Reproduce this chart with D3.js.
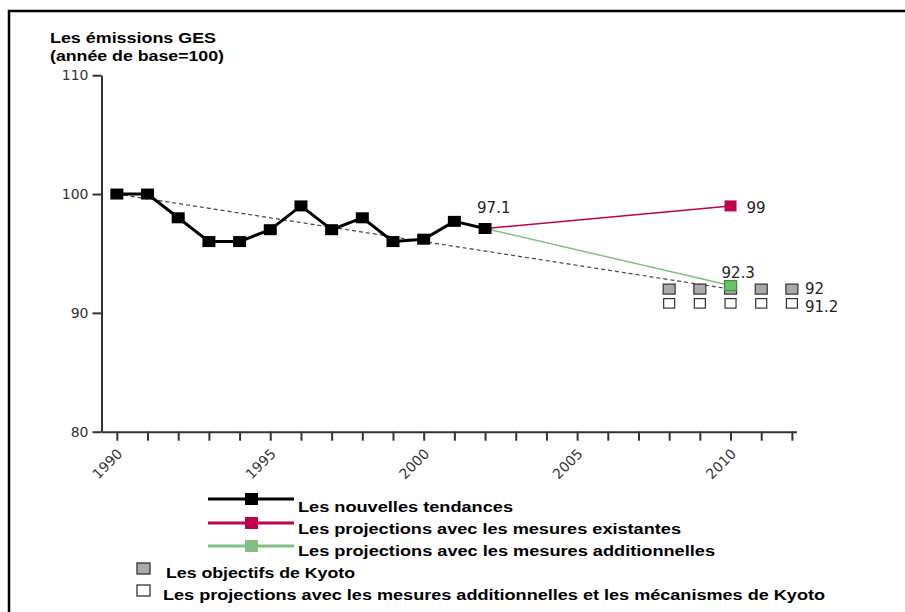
<!DOCTYPE html>
<html>
<head>
<meta charset="utf-8">
<script src="https://cdn.jsdelivr.net/npm/d3@7"></script>
<style>
  body { margin: 0; background: #fff; }
  svg { display: block; }
</style>
</head>
<body>
<div id="chart"></div>
<script>
var width = 905,
    height = 612;

// data
var years = [1990, 1991, 1992, 1993, 1994, 1995, 1996, 1997, 1998, 1999, 2000, 2001, 2002];
var tendances = [100, 100, 98, 96, 96, 97, 99, 97, 98, 96, 96.2, 97.7, 97.1];
var projYears = [2002, 2010];
var existantes = [97.1, 99];
var additionnelles = [97.1, 92.3];
var trendYears = [1990, 2010];
var trendValues = [100, 92];
var kyotoYears = [2008, 2009, 2010, 2011, 2012];
var kyotoObjectifs = [92, 92, 92, 92, 92];
var kyotoMecanismes = [91.2, 91.2, 91.2, 91.2, 91.2];
var yTicks = [80, 90, 100, 110];
var xTicks = d3.range(1990, 2013);
var xLabelYears = [1990, 1995, 2000, 2005, 2010];
var titleLines = ['Les émissions GES', '(année de base=100)'];
var legendLines = ['Les nouvelles tendances', 'Les projections avec les mesures existantes', 'Les projections avec les mesures additionnelles'];
var legendBoxes = ['Les objectifs de Kyoto', 'Les projections avec les mesures additionnelles et les mécanismes de Kyoto'];

var red = '#c0004f',
    green = '#80c080';

var svg = d3.select('#chart').append('svg')
    .attr('width', width)
    .attr('height', height);

// frame (only top and left edges show)
svg.append('rect')
    .attr('x', 9).attr('y', 11)
    .attr('width', 1000).attr('height', 1000)
    .attr('fill', 'none')
    .attr('stroke', '#000')
    .attr('stroke-width', 2.5);

var x = d3.scaleLinear().domain([1989.5, 2012.15]).range([101.5, 796.5]);
var y = d3.scaleLinear().domain([80, 110]).range([431.7, 75.2]);

// title
svg.selectAll('.title')
    .data(titleLines)
    .enter().append('text')
    .attr('class', 'title')
    .attr('x', 50)
    .attr('y', function(d, i) { return 43 + i * 18; })
    .attr('textLength', function(d, i) { return [166, 174][i]; })
    .attr('lengthAdjust', 'spacingAndGlyphs')
    .attr('font-family', 'Liberation Sans, Arial, sans-serif')
    .attr('font-weight', 'bold')
    .attr('font-size', '14px')
    .text(function(d) { return d; });

// axes
var yAxis = d3.axisLeft(y).tickValues(yTicks).tickSize(9).tickPadding(4).tickSizeOuter(0);
var xAxis = d3.axisBottom(x).tickValues(xTicks).tickSize(9).tickSizeOuter(0)
    .tickFormat(function(d) { return xLabelYears.indexOf(d) >= 0 ? d : ''; });

var gy = svg.append('g')
    .attr('transform', 'translate(' + x.range()[0] + ',0)')
    .call(yAxis);

var gx = svg.append('g')
    .attr('transform', 'translate(0,' + y.range()[0] + ')')
    .call(xAxis);

[gx, gy].forEach(function(g) {
    g.select('.domain').attr('stroke', '#333').attr('stroke-width', 2);
    g.selectAll('.tick line').attr('stroke', '#333').attr('stroke-width', 2);
    g.selectAll('.tick text')
        .attr('fill', '#333')
        .attr('font-family', 'DejaVu Sans, Verdana, sans-serif')
        .attr('font-size', '14px');
});

gx.selectAll('.tick text')
    .attr('x', 0).attr('y', 0).attr('dy', 0)
    .attr('text-anchor', 'end')
    .attr('transform', 'translate(6,23) rotate(-45)');

// dashed trend to the Kyoto target
svg.append('path')
    .datum(trendYears.map(function(d, i) { return [d, trendValues[i]]; }))
    .attr('fill', 'none')
    .attr('stroke', '#444')
    .attr('stroke-width', 1.2)
    .attr('stroke-dasharray', '4,3')
    .attr('d', d3.line().x(function(d) { return x(d[0]); }).y(function(d) { return y(d[1]); }));

// Kyoto squares
svg.selectAll('.kyoto')
    .data(kyotoYears.map(function(d, i) { return [d, kyotoObjectifs[i]]; }))
    .enter().append('rect')
    .attr('class', 'kyoto')
    .attr('x', function(d) { return x(d[0]) - 6; })
    .attr('y', function(d) { return y(d[1]) - 5; })
    .attr('width', 12).attr('height', 10)
    .attr('fill', '#aaa')
    .attr('stroke', '#333')
    .attr('stroke-width', 1.2);

svg.selectAll('.meca')
    .data(kyotoYears.map(function(d, i) { return [d, kyotoMecanismes[i]]; }))
    .enter().append('rect')
    .attr('class', 'meca')
    .attr('x', function(d) { return x(d[0]) - 5.5; })
    .attr('y', function(d) { return y(d[1]); })
    .attr('width', 11).attr('height', 9.5)
    .attr('fill', '#fff')
    .attr('stroke', '#333')
    .attr('stroke-width', 1.2);

var line = d3.line().x(function(d) { return x(d[0]); }).y(function(d) { return y(d[1]); });

// projections
svg.append('path')
    .datum(projYears.map(function(d, i) { return [d, existantes[i]]; }))
    .attr('fill', 'none').attr('stroke', red).attr('stroke-width', 1.5)
    .attr('d', line);

svg.append('path')
    .datum(projYears.map(function(d, i) { return [d, additionnelles[i]]; }))
    .attr('fill', 'none').attr('stroke', green).attr('stroke-width', 1.5)
    .attr('d', line);

// trends
var trendData = years.map(function(d, i) { return [d, tendances[i]]; });
svg.append('path')
    .datum(trendData)
    .attr('fill', 'none').attr('stroke', '#000').attr('stroke-width', 3)
    .attr('stroke-linejoin', 'round')
    .attr('d', line);

svg.selectAll('.pt')
    .data(trendData)
    .enter().append('rect')
    .attr('class', 'pt')
    .attr('x', function(d) { return x(d[0]) - 6.5; })
    .attr('y', function(d) { return y(d[1]) - 5.5; })
    .attr('width', 13).attr('height', 11)
    .attr('fill', '#000');

// end markers of the projections
svg.append('rect')
    .attr('x', x(projYears[1]) - 6).attr('y', y(existantes[1]) - 5.5)
    .attr('width', 12).attr('height', 11)
    .attr('fill', red);

svg.append('rect')
    .attr('x', x(projYears[1]) - 6).attr('y', y(additionnelles[1]) - 5)
    .attr('width', 12).attr('height', 10)
    .attr('fill', '#6cbf6c')
    .attr('stroke', '#2e9a2e')
    .attr('stroke-width', 1.2);

// value labels
var lab = svg.append('g')
    .attr('font-family', 'DejaVu Sans, Verdana, sans-serif')
    .attr('font-size', '15px')
    .attr('fill', '#222');

lab.append('text')
    .attr('x', x(years[years.length - 1]) - 8)
    .attr('y', y(tendances[tendances.length - 1]) - 15)
    .text(tendances[tendances.length - 1]);
lab.append('text')
    .attr('x', x(projYears[1]) + 16)
    .attr('y', y(existantes[1]) + 7)
    .text(existantes[1]);
lab.append('text')
    .attr('x', x(projYears[1]) - 9)
    .attr('y', y(additionnelles[1]) - 8)
    .text(additionnelles[1]);
lab.append('text')
    .attr('x', x(kyotoYears[4]) + 13)
    .attr('y', y(kyotoObjectifs[4]) + 5)
    .text(kyotoObjectifs[4]);
lab.append('text')
    .attr('x', x(kyotoYears[4]) + 13)
    .attr('y', y(kyotoMecanismes[4]) + 13)
    .text(kyotoMecanismes[4]);

// legend
var legendColors = ['#000', red, green];
var legendMarks = ['#000', red, '#80c080'];
var legendLen = [215, 383, 417];

var lg = svg.selectAll('.lg')
    .data(legendLines)
    .enter().append('g')
    .attr('class', 'lg')
    .attr('transform', function(d, i) { return 'translate(0,' + [499, 523, 546][i] + ')'; });

lg.append('line')
    .attr('x1', 208).attr('x2', 294)
    .attr('stroke', function(d, i) { return legendColors[i]; })
    .attr('stroke-width', 3);

lg.append('rect')
    .attr('x', 245).attr('y', -6)
    .attr('width', 13).attr('height', 12)
    .attr('fill', function(d, i) { return legendMarks[i]; });

lg.append('text')
    .attr('x', 298)
    .attr('y', function(d, i) { return [12.5, 10.5, 10][i]; })
    .attr('textLength', function(d, i) { return legendLen[i]; })
    .attr('lengthAdjust', 'spacingAndGlyphs')
    .attr('font-family', 'Liberation Sans, Arial, sans-serif')
    .attr('font-weight', 'bold')
    .attr('font-size', '14px')
    .text(function(d) { return d; });

var lb = svg.selectAll('.lb')
    .data(legendBoxes)
    .enter().append('g')
    .attr('class', 'lb');

lb.append('rect')
    .attr('x', 137)
    .attr('y', function(d, i) { return [563, 585][i]; })
    .attr('width', 13).attr('height', 11)
    .attr('fill', function(d, i) { return i === 0 ? '#aaa' : '#fff'; })
    .attr('stroke', '#333')
    .attr('stroke-width', 1.3);

lb.append('text')
    .attr('x', function(d, i) { return [166, 163][i]; })
    .attr('y', function(d, i) { return [577.5, 600][i]; })
    .attr('textLength', function(d, i) { return [189, 662][i]; })
    .attr('lengthAdjust', 'spacingAndGlyphs')
    .attr('font-family', 'Liberation Sans, Arial, sans-serif')
    .attr('font-weight', 'bold')
    .attr('font-size', '14px')
    .text(function(d) { return d; });
</script>
</body>
</html>
